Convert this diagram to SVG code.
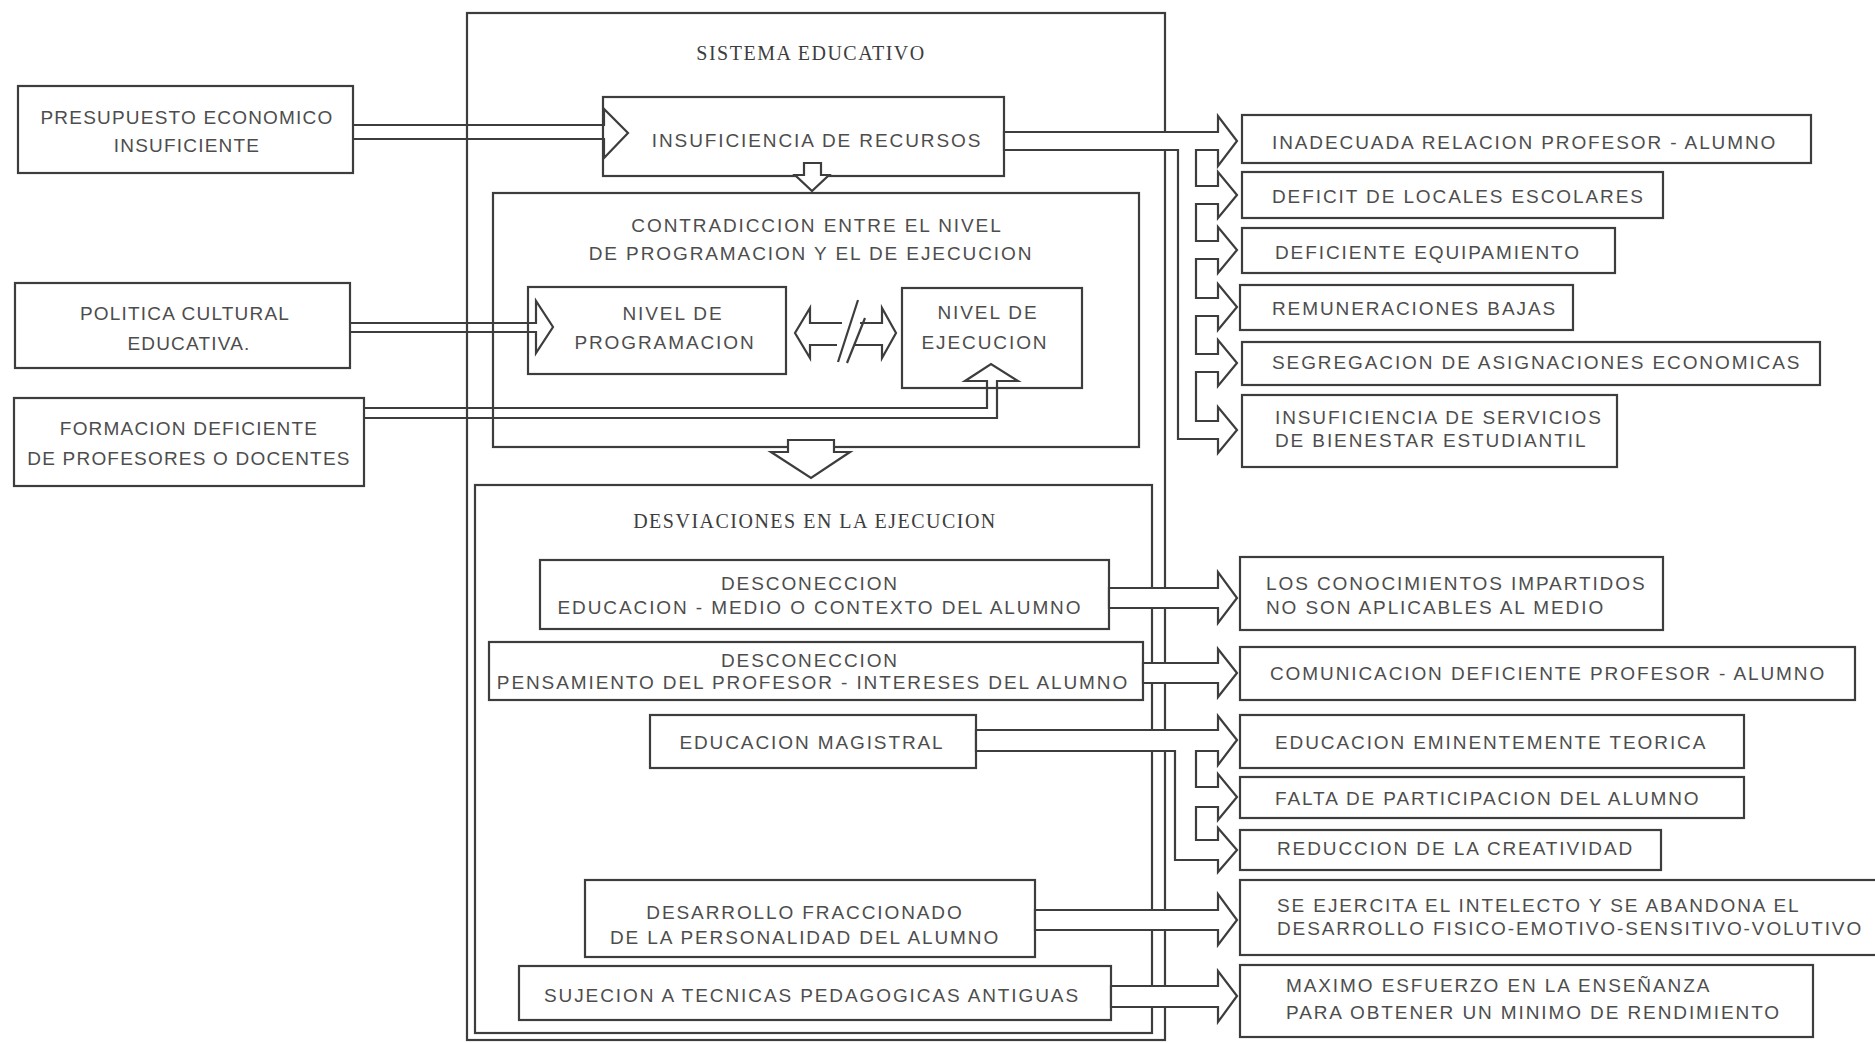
<svg xmlns="http://www.w3.org/2000/svg" width="1875" height="1043" viewBox="0 0 1875 1043">
<style>
.frame{fill:none;stroke:#3d3d3d;stroke-width:2.2}
.box{fill:#fff;stroke:#3d3d3d;stroke-width:2.2}
.t{font-family:"Liberation Sans",Arial,sans-serif;font-size:19px;letter-spacing:1.9px;fill:#4d4d4d}
.l{letter-spacing:1.2px}
.c{text-anchor:middle}
.s{font-family:"Liberation Serif","Times New Roman",serif;font-size:20px;letter-spacing:1.5px;fill:#3d3d3d;text-anchor:middle}
.aw{fill:#fff;stroke:#3d3d3d;stroke-width:2.2;stroke-linejoin:miter}
.an{fill:none;stroke:#3d3d3d;stroke-width:2.2;stroke-linejoin:miter}
</style>
<rect width="1875" height="1043" fill="#fff"/>

<g id="sistema">
<rect class="frame" x="467" y="13" width="698" height="1027"/>
<text class="s" x="811" y="60">SISTEMA EDUCATIVO</text>
</g>

<g id="contradiccion">
<rect class="frame" x="493" y="193" width="646" height="254"/>
<text class="t c" x="817" y="232">CONTRADICCION ENTRE EL NIVEL</text>
<text class="t c" x="811" y="260">DE PROGRAMACION Y EL DE EJECUCION</text>
</g>

<g id="desviaciones">
<rect class="frame" x="475" y="485" width="677" height="548"/>
<text class="s" x="815" y="528">DESVIACIONES EN LA EJECUCION</text>
</g>

<g id="presupuesto">
<rect class="box" x="18" y="86" width="335" height="87"/>
<text class="t c l" x="187" y="124">PRESUPUESTO ECONOMICO</text>
<text class="t c l" x="187" y="152">INSUFICIENTE</text>
</g>
<g id="politica">
<rect class="box" x="15" y="283" width="335" height="85"/>
<text class="t c l" x="185" y="320">POLITICA CULTURAL</text>
<text class="t c l" x="189" y="350">EDUCATIVA.</text>
</g>
<g id="formacion">
<rect class="box" x="14" y="398" width="350" height="88"/>
<text class="t c l" x="189" y="435">FORMACION DEFICIENTE</text>
<text class="t c l" x="189" y="465">DE PROFESORES O DOCENTES</text>
</g>

<g id="insuficiencia-recursos">
<rect class="box" x="603" y="97" width="401" height="79"/>
<text class="t c" x="817" y="147">INSUFICIENCIA DE RECURSOS</text>
</g>
<g id="nivel-programacion">
<rect class="box" x="528" y="287" width="258" height="87"/>
<text class="t c" x="673" y="320">NIVEL DE</text>
<text class="t c" x="665" y="349">PROGRAMACION</text>
</g>
<g id="nivel-ejecucion">
<rect class="box" x="902" y="288" width="180" height="100"/>
<text class="t c" x="988" y="319">NIVEL DE</text>
<text class="t c" x="985" y="349">EJECUCION</text>
</g>

<g id="d1">
<rect class="box" x="540" y="560" width="569" height="69"/>
<text class="t c" x="810" y="590">DESCONECCION</text>
<text class="t c" x="820" y="614">EDUCACION - MEDIO O CONTEXTO DEL ALUMNO</text>
</g>
<g id="d2">
<rect class="box" x="489" y="642" width="654" height="58"/>
<text class="t c" x="810" y="667">DESCONECCION</text>
<text class="t c" x="813" y="689">PENSAMIENTO DEL PROFESOR - INTERESES DEL ALUMNO</text>
</g>
<g id="d3">
<rect class="box" x="650" y="715" width="326" height="53"/>
<text class="t c" x="812" y="749">EDUCACION MAGISTRAL</text>
</g>
<g id="d4">
<rect class="box" x="585" y="880" width="450" height="77"/>
<text class="t c" x="805" y="919">DESARROLLO FRACCIONADO</text>
<text class="t c" x="805" y="944">DE LA PERSONALIDAD DEL ALUMNO</text>
</g>
<g id="d5">
<rect class="box" x="519" y="966" width="592" height="54"/>
<text class="t c" x="812" y="1002">SUJECION A TECNICAS PEDAGOGICAS ANTIGUAS</text>
</g>

<g id="r1">
<rect class="box" x="1242" y="115" width="569" height="48"/>
<text class="t" x="1272" y="149">INADECUADA RELACION PROFESOR - ALUMNO</text>
</g>
<g id="r2">
<rect class="box" x="1242" y="172" width="421" height="46"/>
<text class="t" x="1272" y="203">DEFICIT DE LOCALES ESCOLARES</text>
</g>
<g id="r3">
<rect class="box" x="1242" y="228" width="373" height="45"/>
<text class="t" x="1275" y="259">DEFICIENTE EQUIPAMIENTO</text>
</g>
<g id="r4">
<rect class="box" x="1240" y="285" width="333" height="45"/>
<text class="t" x="1272" y="315">REMUNERACIONES BAJAS</text>
</g>
<g id="r5">
<rect class="box" x="1242" y="342" width="578" height="43"/>
<text class="t" x="1272" y="369">SEGREGACION DE ASIGNACIONES ECONOMICAS</text>
</g>
<g id="r6">
<rect class="box" x="1242" y="395" width="375" height="72"/>
<text class="t" x="1275" y="424">INSUFICIENCIA DE SERVICIOS</text>
<text class="t" x="1275" y="447">DE BIENESTAR ESTUDIANTIL</text>
</g>

<g id="b1">
<rect class="box" x="1240" y="557" width="423" height="73"/>
<text class="t" x="1266" y="590">LOS CONOCIMIENTOS IMPARTIDOS</text>
<text class="t" x="1266" y="614">NO SON APLICABLES AL MEDIO</text>
</g>
<g id="b2">
<rect class="box" x="1240" y="647" width="615" height="53"/>
<text class="t" x="1270" y="680">COMUNICACION DEFICIENTE PROFESOR - ALUMNO</text>
</g>
<g id="b3">
<rect class="box" x="1240" y="715" width="504" height="53"/>
<text class="t" x="1275" y="749">EDUCACION EMINENTEMENTE TEORICA</text>
</g>
<g id="b4">
<rect class="box" x="1240" y="777" width="504" height="41"/>
<text class="t" x="1275" y="805">FALTA DE PARTICIPACION DEL ALUMNO</text>
</g>
<g id="b5">
<rect class="box" x="1240" y="830" width="421" height="40"/>
<text class="t" x="1277" y="855">REDUCCION DE LA CREATIVIDAD</text>
</g>
<g id="b6">
<rect class="box" x="1240" y="880" width="645" height="75"/>
<text class="t" x="1277" y="912">SE EJERCITA EL INTELECTO Y SE ABANDONA EL</text>
<text class="t" x="1277" y="935">DESARROLLO FISICO-EMOTIVO-SENSITIVO-VOLUTIVO</text>
</g>
<g id="b7">
<rect class="box" x="1240" y="965" width="573" height="72"/>
<text class="t" x="1286" y="992">MAXIMO ESFUERZO EN LA ENSEÑANZA</text>
<text class="t" x="1286" y="1019">PARA OBTENER UN MINIMO DE RENDIMIENTO</text>
</g>

<g id="connectors">
<path class="an" d="M353 125H604V109L628 133L604 158V139H353"/>
<path class="an" d="M350 323H536V301L553 327L536 353V332H350"/>
<path class="an" d="M364 408H987V381H965L991 364L1018 381H997V418H364"/>
<path class="an" d="M842 323H810V308L795 333L810 358V345H837"/>
<path class="an" d="M860 323H882V308L896 333L882 358V345H855"/>
<path class="an" d="M858 300L838 362M865 318L847 363"/>
<path class="aw" d="M804 163H821V175H829L812 191L795 175H804Z"/>
<path class="aw" d="M788 440H834V452H850L811 478L771 452H788Z"/>
<path class="aw" d="M1004 132H1218V116L1237 141L1218 166V150H1196V186H1218V172L1237 195L1218 218V204H1196V241H1218V227L1237 250L1218 273V259H1196V298H1218V284L1237 307L1218 330V316H1196V354H1218V340L1237 363L1218 386V372H1196V421H1218V407L1237 430L1218 453V439H1178V150H1004Z"/>
<path class="aw" d="M1109 588H1218V572L1237 598L1218 623V608H1109Z"/>
<path class="aw" d="M1143 663H1218V649L1237 673L1218 697V683H1143Z"/>
<path class="aw" d="M976 730H1218V716L1237 740L1218 765V751H1196V787H1218V774L1237 797L1218 820V807H1196V840H1218V828L1237 850L1218 872V860H1175V751H976Z"/>
<path class="aw" d="M1035 910H1218V894L1237 920L1218 945V930H1035Z"/>
<path class="aw" d="M1111 986H1218V971L1237 996L1218 1022V1007H1111Z"/>
</g>
</svg>
